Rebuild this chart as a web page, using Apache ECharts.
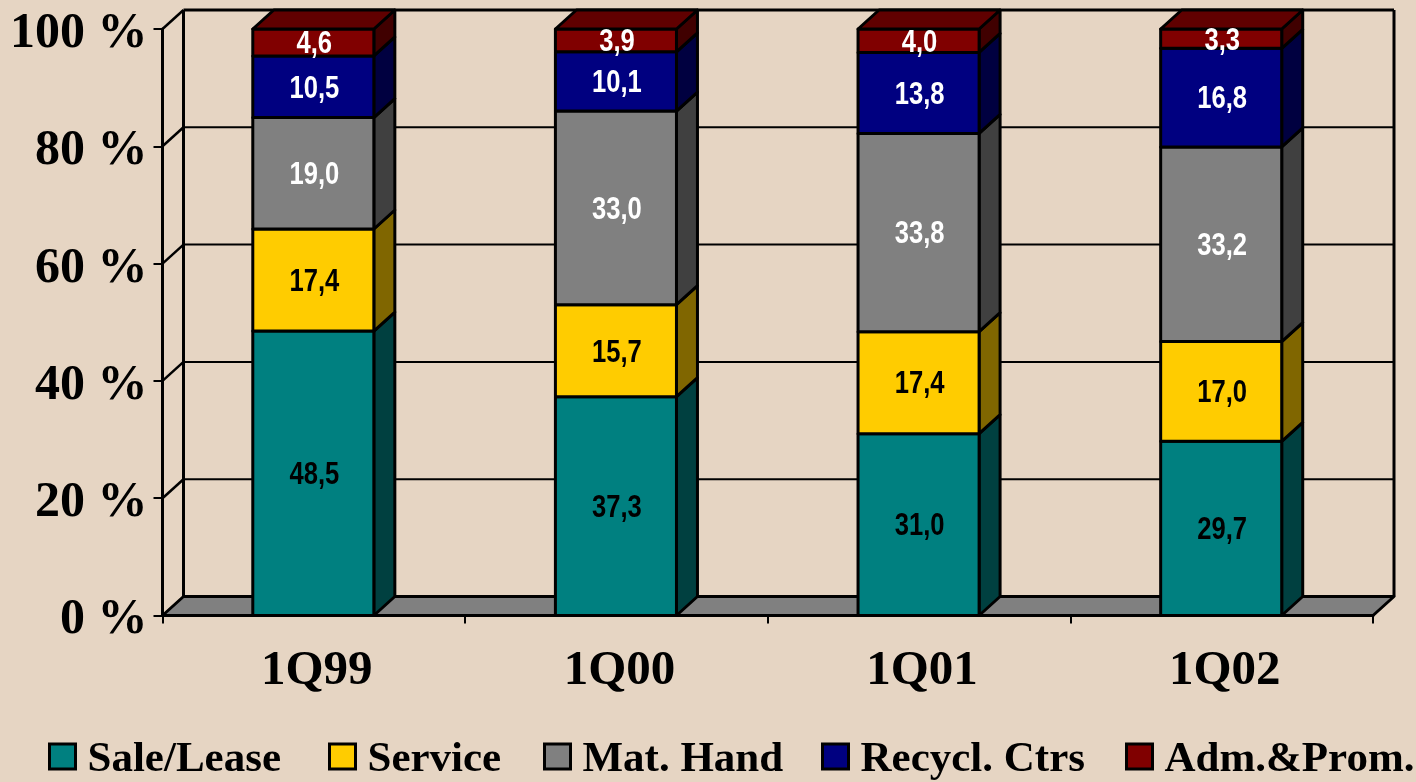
<!DOCTYPE html>
<html>
<head>
<meta charset="utf-8">
<title>Revenue mix</title>
<script src="https://cdn.jsdelivr.net/npm/echarts@6/dist/echarts.min.js"></script>
<style>
html,body{margin:0;padding:0;background:#e6d5c3;}
#myEchart{width:1416px;height:782px;}
</style>
</head>
<body>
<div id="myEchart"></div>
<script>
var categories = ['1Q99', '1Q00', '1Q01', '1Q02'];
var yTicks = [0, 20, 40, 60, 80, 100];

var saleLease = [48.5, 37.3, 31.0, 29.7];
var service = [17.4, 15.7, 17.4, 17.0];
var matHand = [19.0, 33.0, 33.8, 33.2];
var recyclCtrs = [10.5, 10.1, 13.8, 16.8];
var admProm = [4.6, 3.9, 4.0, 3.3];

var stackSeries = [
    {name: 'Sale/Lease', values: saleLease, front: '#008080', side: '#004040', text: '#000'},
    {name: 'Service', values: service, front: '#ffcc00', side: '#806600', text: '#000'},
    {name: 'Mat. Hand', values: matHand, front: '#808080', side: '#404040', text: '#fff'},
    {name: 'Recycl. Ctrs', values: recyclCtrs, front: '#000080', side: '#000040', text: '#fff'},
    {name: 'Adm.&Prom.', values: admProm, front: '#800000', side: '#400000', text: '#fff'}
];

var legendLeft = [48, 328, 543, 821, 1125];//the original legend is not evenly spaced
var depthX = 21;//3d depth of the walls and bars
var depthY = 19;
var edge = {stroke: '#000', lineWidth: 3, lineJoin: 'round'};
var serifBold = '"Liberation Serif", "Times New Roman", serif';

function line(x1, y1, x2, y2, width) {
    return {type: 'line', shape: {x1: x1, y1: y1, x2: x2, y2: y2}, style: {stroke: '#000', lineWidth: width}};
}

function poly(points, fill) {
    return {type: 'polygon', shape: {points: points}, style: {fill: fill, stroke: edge.stroke, lineWidth: edge.lineWidth, lineJoin: edge.lineJoin}};
}

// back wall, left wall and floor
function renderFrame(params, api) {
    var sys = params.coordSys;
    var v = api.value(1);
    var y = api.coord([0, v])[1];
    var left = sys.x, right = sys.x + sys.width;
    var children = [];
    if (v === 0) {
        children.push(poly([[left, y], [right, y], [right + depthX, y - depthY], [left + depthX, y - depthY]], '#808080'));
    } else {
        children.push(line(left + depthX, y - depthY, right + depthX, y - depthY, v === 100 ? 3 : 2));
        children.push(line(left, y, left + depthX, y - depthY, 2.5));
    }
    if (v === 100) {
        var y0 = api.coord([0, 0])[1];
        children.push(line(left + depthX, y - depthY, left + depthX, y0 - depthY, 3));
        children.push(line(right + depthX, y - depthY, right + depthX, y0 - depthY, 3));
    }
    return {type: 'group', children: children};
}

function makeBarRender(item, isTop) {
    return function (params, api) {
        var center = api.coord([api.value(0), 0])[0];
        var width = api.size([1, 0])[0] * 0.4;
        var yLow = api.coord([0, api.value(1)])[1];
        var yHigh = api.coord([0, api.value(2)])[1];
        var l = center - width / 2 - 0.5, r = center + width / 2 - 0.5;
        var children = [
            poly([[r, yLow], [r + depthX, yLow - depthY], [r + depthX, yHigh - depthY], [r, yHigh]], item.side),
            poly([[l, yLow], [r, yLow], [r, yHigh], [l, yHigh]], item.front)
        ];
        if (isTop) {
            children.push(poly([[l, yHigh], [r, yHigh], [r + depthX, yHigh - depthY], [l + depthX, yHigh - depthY]], '#600000'));
        }
        // no narrow font installed, so squeeze the bold sans
        children.push({
            type: 'text',
            z2: 10,
            x: (l + r) / 2 + 1,
            y: (yLow + yHigh) / 2 + 2,
            scaleX: 0.8,
            style: {
                x: 0,
                y: 0,
                text: (api.value(2) - api.value(1)).toFixed(1).replace('.', ','),
                fill: item.text,
                font: 'bold 32px "Liberation Sans", sans-serif',
                align: 'center',
                verticalAlign: 'middle'
            }
        });
        return {type: 'group', children: children};
    };
}

var series = [{
    name: 'frame',
    type: 'custom',
    z: 1,
    silent: true,
    clip: false,
    renderItem: renderFrame,
    encode: {x: 0, y: 1},
    data: yTicks.map(function (v) { return [0, v]; })
}];

var running = categories.map(function () { return 0; });
stackSeries.forEach(function (item, i) {
    var rows = item.values.map(function (v, c) {
        var row = [c, running[c], running[c] + v];
        running[c] += v;
        return row;
    });
    series.push({
        name: item.name,
        type: 'custom',
        z: 2 + i,
        clip: false,
        itemStyle: {color: item.front},
        renderItem: makeBarRender(item, i === stackSeries.length - 1),
        encode: {x: 0, y: [1, 2]},
        data: rows
    });
});

var option = {
    animation: false,
    backgroundColor: '#e6d5c3',
    grid: {left: 162.5, right: 43, top: 29, bottom: 166.5},
    legend: stackSeries.map(function (item, i) {
        return {
            left: legendLeft[i],
            top: 738,
            padding: 0,
            itemWidth: 26,
            itemHeight: 25,
            selectedMode: false,
            formatter: '{t|{name}}',
            textStyle: {
                rich: {
                    t: {fontFamily: serifBold, fontWeight: 'bold', fontSize: 43, color: '#000', padding: [6, 0, 0, 7]}
                }
            },
            data: [{
                name: item.name,
                icon: 'rect',
                itemStyle: {color: item.front, borderColor: '#000', borderWidth: 3}
            }]
        };
    }),
    xAxis: {
        type: 'category',
        data: categories,
        z: 20,
        axisLine: {show: true, lineStyle: {color: '#000', width: 3}},
        axisTick: {show: true, length: 8, alignWithLabel: false, lineStyle: {color: '#000', width: 2}},
        axisLabel: {fontFamily: serifBold, fontWeight: 'bold', fontSize: 49, color: '#000', margin: 31, padding: [0, 0, 0, 6]}
    },
    yAxis: {
        type: 'value',
        min: 0,
        max: 100,
        interval: 20,
        z: 20,
        splitLine: {show: false},
        axisLine: {show: true, lineStyle: {color: '#000', width: 3}},
        axisTick: {show: true, length: 9, lineStyle: {color: '#000', width: 2}},
        axisLabel: {
            formatter: '{value} %',
            fontFamily: serifBold,
            fontWeight: 'bold',
            fontSize: 50,
            color: '#000',
            margin: 15,
            verticalAlign: 'top',
            lineHeight: 10
        }
    },
    series: series
};

var myechart = echarts.init(document.getElementById('myEchart'));
myechart.setOption(option);
</script>
</body>
</html>
